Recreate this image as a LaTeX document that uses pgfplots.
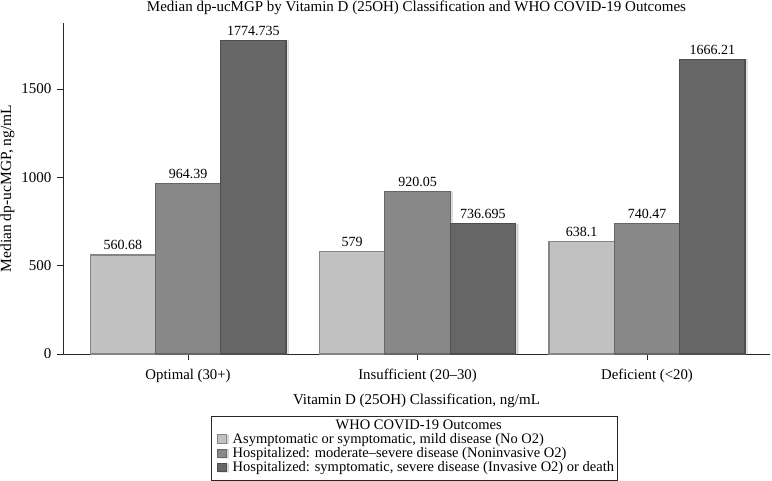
\documentclass[border=0pt]{standalone}
\usepackage{fontspec}
\setmainfont{Liberation Serif}
\usepackage{pgfplots}
\pgfplotsset{compat=1.18}
\usetikzlibrary{shadows}
\definecolor{lightbar}{HTML}{C1C1C1}
\definecolor{lightedge}{HTML}{858585}
\definecolor{midbar}{HTML}{888888}
\definecolor{midedge}{HTML}{666666}
\definecolor{darkbar}{HTML}{666666}
\definecolor{darkedge}{HTML}{4E4E4E}
\pgfplotsset{sqlegend/.style={legend image code/.code={\path (0pt,-2pt) (16.5pt,-2pt);\draw[##1, line width=0.8pt] (1.4pt,-2pt) rectangle (10.4pt,6.5pt);}}}
\tikzset{barshadow/.style={drop shadow={shadow xshift=2.5pt, shadow yshift=-0.5pt, opacity=0.12, fill=black}}}
\begin{document}
\begin{tikzpicture}[x=1pt,y=1pt]
\useasboundingbox (0,0) rectangle (772,481);
\begin{axis}[
  at={(63pt,127pt)}, anchor=south west,
  scale only axis, width=707pt, height=331pt,
  xmin=-0.545, xmax=2.536, ymin=0, ymax=1873,
  axis x line*=bottom, axis y line*=left,
  axis line style={-, line width=0.9pt, black!85},
  tick style={line width=0.7pt, black!85},
  tick align=outside, major tick length=6pt,
  xtick={0,1,2}, xticklabels={Optimal (30+),Insufficient (20--30),Deficient (<20)},
  ytick={0,500,1000,1500},
  /pgf/number format/assume math mode=true,
  scaled y ticks=false,
  yticklabel style={font=\fontsize{15}{16}\selectfont, /pgf/number format/1000 sep={}, xshift=-2pt},
  xticklabel style={font=\fontsize{14.8}{16}\selectfont, anchor=base, yshift=-20pt},
  title={Median dp-ucMGP by Vitamin D (25OH) Classification and WHO COVID-19 Outcomes},
  title style={font=\fontsize{15}{16}\selectfont, at={(axis description cs:0.5,1)}, anchor=base, yshift=5pt},
  xlabel={Vitamin D (25OH) Classification, ng/mL},
  xlabel style={font=\fontsize{15}{16}\selectfont, at={(axis description cs:0.5,0)}, anchor=base, yshift=-51pt},
  ylabel={Median dp-ucMGP, ng/mL},
  ylabel style={font=\fontsize{15.5}{16}\selectfont, at={(axis description cs:-0.0735,0.5)}, anchor=base},
  ybar=0pt, bar width=65.3pt,
  point meta=explicit symbolic,
  nodes near coords,
  nodes near coords style={font=\fontsize{14}{15}\selectfont, anchor=base, yshift=5pt, inner sep=0pt},
  legend style={at={(axis description cs:0,0)}, anchor=north west, xshift=148pt, yshift=-62pt,
    draw=black!85, line width=0.8pt, font=\fontsize{14.5}{14}\selectfont, inner sep=3.6pt,
    row sep=0pt, nodes={inner sep=0pt, text height=9.4pt, text depth=4.8pt}, legend cell align=left},
  clip=false,
]
\addlegendimage{empty legend}
\addlegendentry{\makebox[0pt][l]{\hspace{185.5pt}\makebox[0pt][c]{WHO COVID-19 Outcomes}}}
\addplot[fill=lightbar, draw=lightedge, line width=1.2pt, barshadow, sqlegend]
  coordinates {(0,560.68) [560.68] (1,579) [579] (2,638.1) [638.1]};
\addlegendentry{Asymptomatic or symptomatic, mild disease (No O2)}
\addplot[fill=midbar, draw=midedge, line width=1.2pt, barshadow, sqlegend]
  coordinates {(0,964.39) [964.39] (1,920.05) [920.05] (2,740.47) [740.47]};
\addlegendentry{Hospitalized: moderate--severe disease (Noninvasive O2)}
\addplot[fill=darkbar, draw=darkedge, line width=1.2pt, barshadow, sqlegend]
  coordinates {(0,1774.735) [1774.735] (1,736.695) [736.695] (2,1666.21) [1666.21]};
\addlegendentry{Hospitalized: symptomatic, severe disease (Invasive O2) or death}
\end{axis}
\end{tikzpicture}
\end{document}
